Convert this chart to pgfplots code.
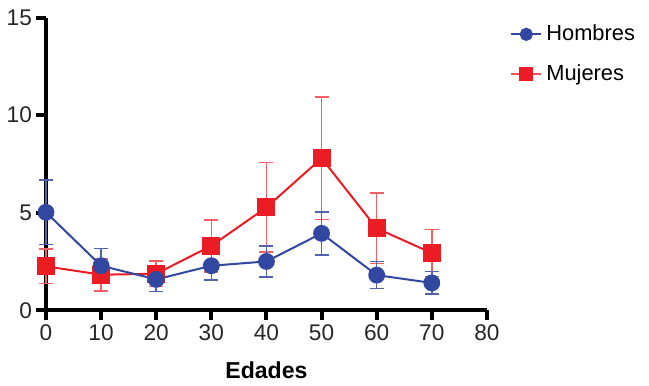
\documentclass[border=0pt]{standalone}
\usepackage{pgfplots}
\pgfplotsset{compat=1.18}
\usepackage{fontspec}
\setmainfont{Liberation Sans}
\definecolor{hblue}{RGB}{50,72,160}
\definecolor{mred}{RGB}{236,28,36}
\begin{document}
\begin{tikzpicture}
\begin{axis}[
  scale only axis,
  width=220pt, height=146pt,
  xmin=0, xmax=80, ymin=0, ymax=15,
  xtick={0,10,...,80}, ytick={0,5,10,15},
  axis x line=bottom, axis y line=left,
  axis line style={-, line width=2.2pt, black},
  tick align=outside,
  major tick length=5pt,
  tick style={line width=2pt, black},
  /pgf/number format/assume math mode=true,
  tick label style={font=\fontsize{11.3}{13}\selectfont, text=black!85},
  xticklabel style={yshift=1.5pt},
  yticklabel style={xshift=1.5pt},
  xlabel={\bfseries Edades},
  xlabel style={font=\fontsize{11.5}{13}\selectfont, yshift=-4pt},
  clip=false,
  legend style={draw=none, fill=none, at={(axis description cs:1.052,0.99)}, anchor=north west,
    font=\fontsize{10.9}{13}\selectfont, row sep=6.5pt, inner sep=0pt},
  legend cell align=left,
  legend image code/.code={\draw[mark repeat=2,mark phase=2,#1] plot coordinates {(0pt,0pt)(7.5pt,0pt)(15pt,0pt)};},
  error bars/y dir=both, error bars/y explicit,
  error bars/error mark options={rotate=90, mark size=3.5pt, line width=0.8pt},
]
\addlegendimage{hblue, line width=1pt, mark=*, mark size=2.8pt}
\addlegendentry{Hombres}
\addlegendimage{mred!75, line width=1pt, mark=square*, mark size=3pt, mark options={fill=mred, draw=mred}}
\addlegendentry{Mujeres}
\addplot[mred, line width=1pt, mark=square*, mark size=4pt, forget plot,
  error bars/error bar style={mred!70, line width=0.8pt}]
  table[x=x, y=y, y error=e] {
x y e
0 2.25 0.88
10 1.82 0.82
20 1.87 0.65
30 3.30 1.33
40 5.27 2.30
50 7.79 3.13
60 4.20 1.80
70 2.93 1.20
};
\addplot[hblue, line width=1pt, mark=*, mark size=3.7pt, forget plot,
  error bars/error bar style={hblue!85, line width=0.8pt}]
  table[x=x, y=y, y error=e] {
x y e
0 5.02 1.65
10 2.28 0.88
20 1.58 0.62
30 2.28 0.72
40 2.50 0.80
50 3.94 1.10
60 1.80 0.69
70 1.40 0.58
};
\end{axis}
\path (current bounding box.north) ++(0,1.5pt);
\path (current bounding box.east) ++(5pt,0);
\end{tikzpicture}
\end{document}
